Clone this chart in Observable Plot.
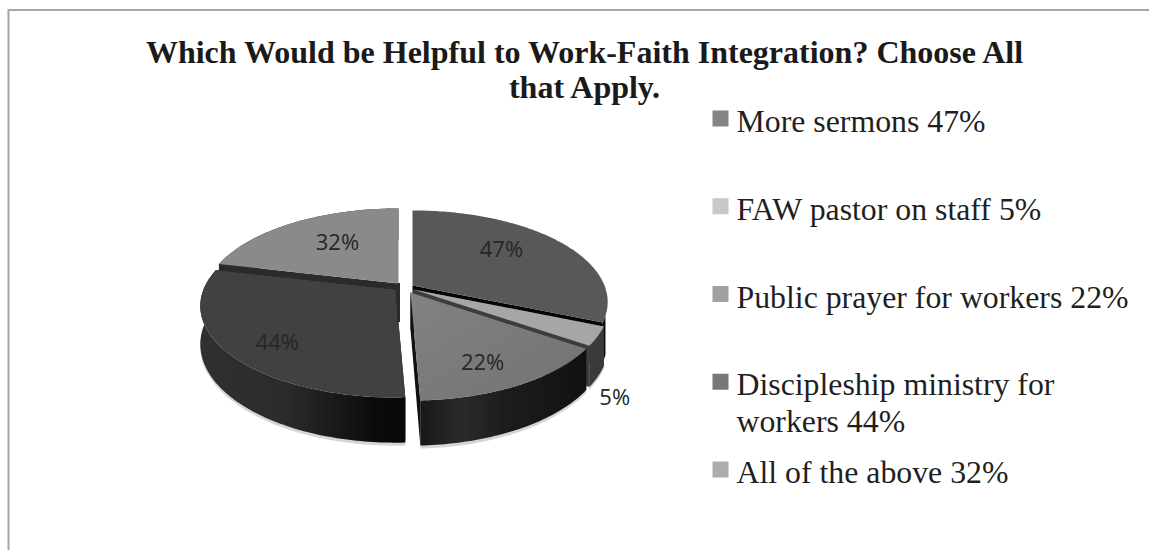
<!DOCTYPE html>
<html>
<head>
<meta charset="utf-8">
<style>html,body{margin:0;padding:0;background:#fff;}svg{display:block;}</style>
<script src="https://cdn.jsdelivr.net/npm/d3@7"></script>
<script src="https://cdn.jsdelivr.net/npm/@observablehq/plot@0.6"></script>
</head>
<body>
<div id="chart"></div>
<script>
// Survey responses, percent of respondents (multiple answers allowed)
const categories = ["More sermons", "FAW pastor on staff", "Public prayer for workers", "Discipleship ministry for\nworkers", "All of the above"];
const values = [47, 5, 22, 44, 32];
const titleLines = "Which Would be Helpful to Work-Faith Integration? Choose All\nthat Apply.";

// Greys for each wedge's top face, legend key, and side walls
const topFill = ["#585858", "#a6a6a6", "url(#topPrayer)", "#414141", "#8a8a8a"];
const keyFill = ["#848484", "#c8c8c8", "#a0a0a0", "#787878", "#adadad"];
const rimFill = ["#0a0a0a", "#3a3a3a", "url(#rimPrayer)", "url(#rimDisciple)", "#2a2c2a"];
const cutFill = ["#050505", "#3d3d3d", "#111111", "#111111", "#2a2c2a"];

// Exploded wedge apexes, and where each value label sits on its wedge
const apexX = [412, 413, 410, 395, 398];
const apexY = [285, 289, 292, 289, 283];
const labelAngle = [48.8, 139.4, 154.6, 225.3, 325.5];
const labelRadius = [0.664, 1.32, 0.766, 0.78, 0.613];

// Tilted-disc projection: far edge shrinks, near edge grows
const R = 192, tilt = 88.6, persp = 0.18, depth = 37;
function project(i, deg, r, down = 0) {
  const t = deg * Math.PI / 180, u = r * Math.sin(t), v = -r * Math.cos(t);
  const s = 1 / (1 - persp * v);
  return {x: apexX[i] + R * u * s, y: apexY[i] + tilt * v * s + down * s};
}

const total = d3.sum(values);
const slices = [];
let start = 0;
values.forEach((v, i) => { const end = start + v / total * 360; slices.push({i, start, end}); start = end; });

function arc(i, a, b, down) {
  const n = Math.max(2, Math.ceil(Math.abs(b - a)));
  return d3.range(n + 1).map(k => project(i, a + (b - a) * k / n, 1, down));
}
const apex = (i, down) => project(i, 0, 0, down);

const poly = (pts, fill) => Plot.line(pts, {x: "x", y: "y", fill, stroke: "none"});

// Faint halo hugging the lower outer wall of the front wedges
function haloMark({i, start, end}) {
  return poly([...arc(i, start, end, 0), ...arc(i, end, start, depth + 2.5)], "#d6d6d6");
}

function wedgeMarks({i, start, end}) {
  // The first wedge only shows a sliver of outer wall beside its neighbour
  const rimFrom = i === 0 ? end - 4 : start;
  return [
    poly([apex(i, 0), project(i, end, 1, 0), project(i, end, 1, depth), apex(i, depth)], cutFill[i]),
    poly([apex(i, 0), project(i, start, 1, 0), project(i, start, 1, depth), apex(i, depth)], cutFill[i]),
    poly([...arc(i, rimFrom, end, 0), ...arc(i, end, rimFrom, depth)], rimFill[i]),
    poly([apex(i, 0), ...arc(i, start, end, 0)], topFill[i])
  ];
}

// Back wedges first so the nearer ones overlap them
const paintOrder = [4, 0, 1, 2, 3];

function gradient(id, x1, y1, x2, y2, stops) {
  const ns = "http://www.w3.org/2000/svg";
  const g = document.createElementNS(ns, "linearGradient");
  g.setAttribute("id", id);
  Object.entries({x1, y1, x2, y2}).forEach(([k, v]) => g.setAttribute(k, v));
  stops.forEach(([o, c]) => {
    const s = document.createElementNS(ns, "stop");
    s.setAttribute("offset", o); s.setAttribute("stop-color", c);
    g.appendChild(s);
  });
  return g;
}
const defsMark = () => {
  const ns = "http://www.w3.org/2000/svg";
  const d = document.createElementNS(ns, "defs");
  d.appendChild(gradient("topPrayer", 0, 0, 1, 1, [[0, "#828282"], [1, "#727272"]]));
  d.appendChild(gradient("rimPrayer", 0, 0, 1, 0, [[0, "#181818"], [0.25, "#2a2a2a"], [0.5, "#1d1d1d"], [1, "#111111"]]));
  d.appendChild(gradient("rimDisciple", 0, 0, 1, 0, [[0, "#2f312f"], [0.4, "#2a2c2a"], [0.65, "#1a1a1a"], [0.85, "#0b0b0b"], [1, "#070707"]]));
  return d;
};

const legendRows = categories.map((c, i) => ({
  text: `${c} ${values[i]}%`, fill: keyFill[i], row: i
}));
const labelRows = values.map((v, i) => ({
  text: `${v}%`, ...project(i, labelAngle[i], labelRadius[i])
}));
const row = d => 118 + d.row * 87.75;

const chart = Plot.plot({
  width: 1149, height: 550,
  margin: 0,
  x: {domain: [0, 1149], range: [0, 1149], axis: null},
  y: {domain: [0, 550], range: [0, 550], axis: null},
  style: {background: "#fff"},
  marks: [
    defsMark,
    Plot.ruleY([9.5], {x1: 8, x2: 1149, stroke: "#a6a6a6", strokeWidth: 2}),
    Plot.ruleX([8], {y1: 9, y2: 550, stroke: "#a6a6a6", strokeWidth: 2}),
    Plot.text([titleLines], {
      x: 584, y: 37.3, text: d => d, lineAnchor: "top", textAnchor: "middle", lineHeight: 1.094,
      fontFamily: "Liberation Serif", fontWeight: "bold", fontSize: 32, fill: "#1a1a1a"
    }),
    ...[1, 2, 3].map(i => haloMark(slices[i])),
    ...paintOrder.flatMap(i => wedgeMarks(slices[i])),
    Plot.ruleX([apexX[4]], {y1: apexY[4], y2: apexY[4] + depth + 2, stroke: cutFill[4], strokeWidth: 3}),
    Plot.text(labelRows, {
      x: "x", y: "y", text: "text", fontFamily: "Open Sans", fontSize: 22, fill: "#262626"
    }),
    Plot.dot(legendRows, {
      x: 720, y: row, symbol: "square", r: 9.03, fill: "fill", stroke: "none"
    }),
    Plot.text(legendRows, {
      x: 736, y: d => row(d) - 12.6, text: "text", lineAnchor: "top", textAnchor: "start", lineHeight: 1.16,
      fontFamily: "Liberation Serif", fontSize: 31.8, fill: "#1f1f1f"
    })
  ]
});
document.getElementById("chart").appendChild(chart);
</script>
</body>
</html>
